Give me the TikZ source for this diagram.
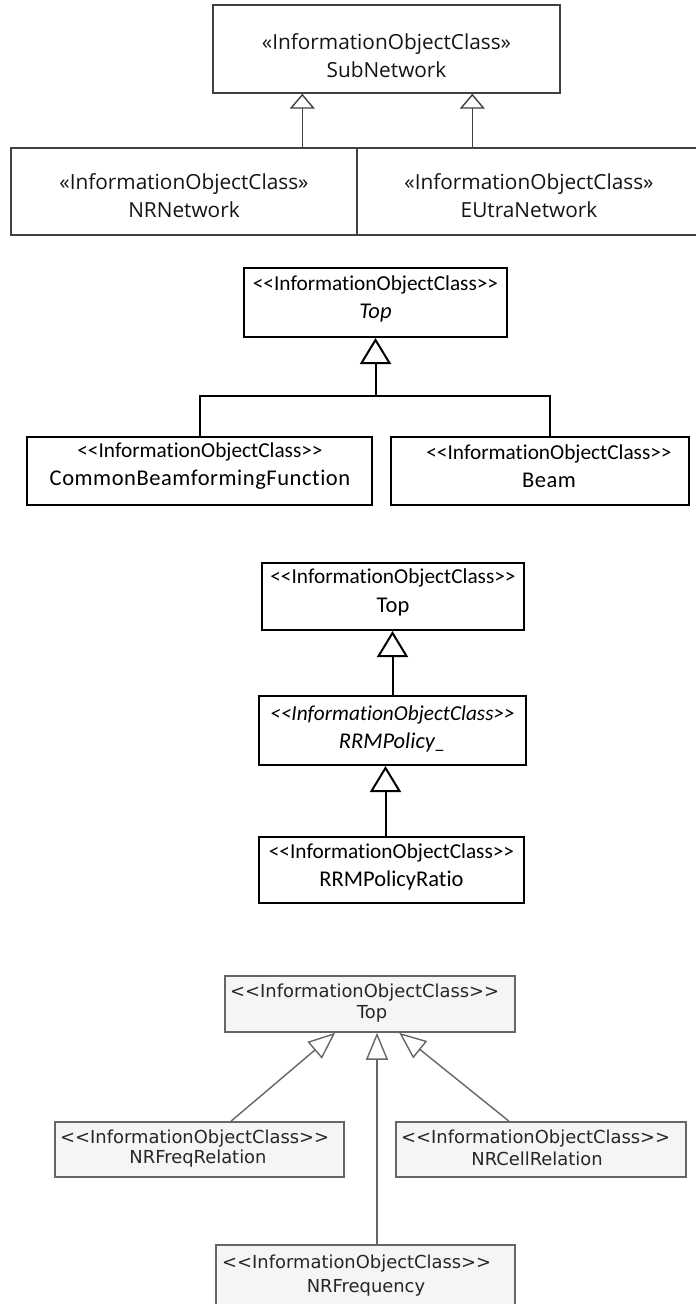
\documentclass[tikz,border=0pt]{standalone}
\usepackage{fontspec}
\newfontfamily\fa{Open Sans}
\newfontfamily\fb{Carlito}[Ligatures=NoCommon]
\newfontfamily\fbs{Carlito}[Ligatures=NoCommon, LetterSpace=2.5]
\newfontfamily\fd{DejaVu Sans}
\usetikzlibrary{arrows.meta,calc}
\begin{document}
\begin{tikzpicture}[x=1pt,y=-1pt,
  boxa/.style={draw=black!75, line width=1.4pt, inner sep=0pt, rectangle},
  txta/.style={font=\fa\fontsize{20.8}{28}\selectfont, text=black!92, align=center, inner sep=0pt},
  gena/.style={draw=black!75, line width=1.4pt, -{Triangle[open, width=25pt, length=15pt, line width=1.4pt]}},
  boxb/.style={draw=black, line width=2pt, inner sep=0pt, rectangle},
  txtb/.style={font=\fb\fontsize{21.3}{28.5}\selectfont, align=center, inner sep=0pt},
  genb/.style={draw=black, line width=2pt, -{Triangle[open, width=31pt, length=26pt, line width=2pt]}},
  linb/.style={draw=black, line width=2pt},
  boxd/.style={draw=black!60, fill=black!4, line width=1.6pt, inner sep=0pt, rectangle},
  txtd/.style={font=\fd\fontsize{17.9}{21}\selectfont, text=black!85, inner sep=0pt},
  gend/.style={draw=black!60, line width=1.4pt, -{Triangle[open, width=22pt, length=27pt, line width=1.4pt]}}
]
\useasboundingbox (0,0) rectangle (696,1304);
\fill[white] (0,0) rectangle (696,1304);

% ---------- Section 1 ----------
\node[boxa, minimum width=347pt, minimum height=88pt] (sub) at (386.5,49) {};
\node[txta] (subt) at (386.5,56) {«InformationObjectClass»\\SubNetwork};
\node[boxa, minimum width=346pt, minimum height=87pt] (nrn) at (184,191.5) {};
\node[txta] (nrnt) at (184,196) {«InformationObjectClass»\\NRNetwork};
\node[boxa, minimum width=344pt, minimum height=87pt] (eun) at (529,191.5) {};
\node[txta] (eunt) at (529,196) {«InformationObjectClass»\\EUtraNetwork};
\draw[gena] ([xshift=90pt]sub.south west |- nrn.north) -- ([xshift=90pt]sub.south west);
\draw[gena] ([xshift=260pt]sub.south west |- eun.north) -- ([xshift=260pt]sub.south west);

% ---------- Section 2 ----------
\node[boxb, minimum width=263pt, minimum height=69pt] (top2) at (375.5,302.5) {};
\node[txtb] (top2t) at (375.5,299) {<{}<InformationObjectClass>{}>\\{\fontsize{22.5}{28.5}\selectfont\itshape Top}};
\node[boxb, minimum width=345pt, minimum height=68pt] (cbf) at (199.5,471) {};
\node[txtb] (cbft) at (200,466) {<{}<InformationObjectClass>{}>\\{\fbs\fontsize{22.5}{28.5}\selectfont CommonBeamformingFunction}};
\node[boxb, minimum width=298pt, minimum height=68pt] (beam) at (540,471) {};
\node[txtb] (beamt) at (549,466) {<{}<InformationObjectClass>{}>\\{\fbs\fontsize{22.5}{28.5}\selectfont Beam}};
\coordinate (j2) at (375.5,396);
\draw[linb] (cbf.north) |- (j2) -| ([xshift=10pt]beam.north);
\draw[genb] (j2) -- (top2.south);

% ---------- Section 3 ----------
\node[boxb, minimum width=262pt, minimum height=67pt] (top3) at (393,596.5) {};
\node[txtb] (top3t) at (393,592.5) {<{}<InformationObjectClass>{}>\\{\fontsize{22.5}{28.5}\selectfont Top}};
\node[boxb, minimum width=267pt, minimum height=69pt] (mid3) at (392.5,730.5) {};
\node[txtb] (mid3t) at (392.5,729) {\itshape <{}<InformationObjectClass>{}>\\{\fontsize{22.5}{28.5}\selectfont\itshape RRMPolicy\_}};
\node[boxb, minimum width=265pt, minimum height=66pt] (bot3) at (391.5,870) {};
\node[txtb] (bot3t) at (391.5,867) {<{}<InformationObjectClass>{}>\\{\fontsize{22.5}{28.5}\selectfont RRMPolicyRatio}};
\draw[genb] (mid3.north) -- (mid3.north |- top3.south);
\draw[genb] ([xshift=-6pt]bot3.north) -- ([xshift=-6pt]bot3.north |- mid3.south);

% ---------- Section 4 ----------
\node[boxd, minimum width=290pt, minimum height=56pt] (top4) at (370,1004) {};
\node[txtd, anchor=west] (top4s) at (230,993) {<{}<InformationObjectClass>{}>};
\node[txtd] (top4n) at (372,1014) {Top};
\node[boxd, minimum width=289pt, minimum height=55pt] (nfr) at (199.5,1149.5) {};
\node[txtd, anchor=west] (nfrs) at (60,1139) {<{}<InformationObjectClass>{}>};
\node[txtd] (nfrn) at (198,1159) {NRFreqRelation};
\node[boxd, minimum width=290pt, minimum height=55pt] (ncr) at (541,1149.5) {};
\node[txtd, anchor=west] (ncrs) at (401,1139) {<{}<InformationObjectClass>{}>};
\node[txtd] (ncrn) at (537,1159) {NRCellRelation};
\node[boxd, minimum width=299pt, minimum height=64pt] (nf) at (365.5,1277) {};
\node[txtd, anchor=west] (nfs) at (222,1264) {<{}<InformationObjectClass>{}>};
\node[txtd] (nfn) at (366,1288) {NRFrequency};
\draw[gend] ([xshift=31.5pt]nfr.north) -- ([xshift=111pt]top4.south west);
\draw[gend] ([xshift=11.5pt]nf.north) -- ([xshift=11.5pt]nf.north |- top4.south);
\draw[gend] ([xshift=-32pt]ncr.north) -- ([xshift=175pt]top4.south west);
\end{tikzpicture}
\end{document}
